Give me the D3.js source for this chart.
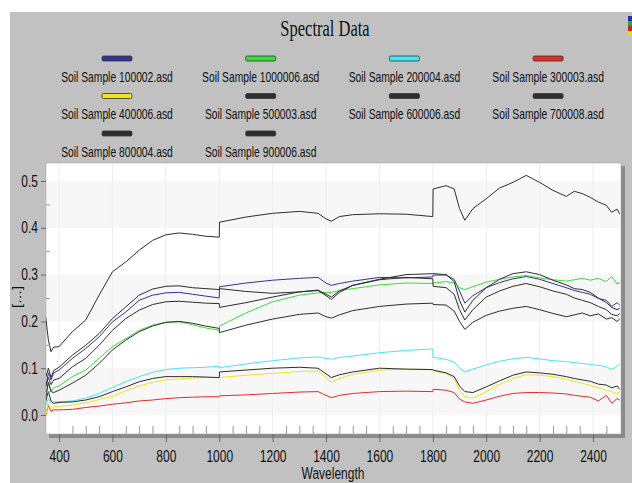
<!DOCTYPE html>
<html>
<head>
<meta charset="utf-8">
<script src="https://cdn.jsdelivr.net/npm/d3@7"></script>
<style>
  body { margin: 0; background: #fff; }
</style>
</head>
<body>
<div id="chart"></div>
<script>
// spectra, one value per wavelength below
// (1000/1001 and 1800/1801 carry the detector splice steps)
const wavelengths = [350, 360, 370, 380, 400, 450, 500, 550, 600, 650,
  700, 750, 800, 850, 900, 950, 1000, 1001, 1100, 1200,
  1300, 1370, 1400, 1420, 1450, 1500, 1600, 1700, 1800, 1801,
  1850, 1880, 1900, 1920, 1950, 2000, 2050, 2100, 2150, 2200,
  2250, 2300, 2330, 2360, 2390, 2420, 2450, 2470, 2490, 2500];

const sampleNames = ["Soil Sample 100002.asd", "Soil Sample 1000006.asd", "Soil Sample 200004.asd",
  "Soil Sample 300003.asd", "Soil Sample 400006.asd", "Soil Sample 500003.asd",
  "Soil Sample 600006.asd", "Soil Sample 700008.asd", "Soil Sample 800004.asd",
  "Soil Sample 900006.asd"];

const s100002 = [0.06, 0.09, 0.075, 0.09, 0.096, 0.121, 0.142, 0.167, 0.199, 0.22,
  0.245, 0.256, 0.261, 0.262, 0.258, 0.254, 0.25, 0.274, 0.282, 0.288,
  0.292, 0.294, 0.282, 0.277, 0.281, 0.286, 0.294, 0.293, 0.295, 0.299,
  0.299, 0.29, 0.265, 0.239, 0.255, 0.272, 0.283, 0.291, 0.296, 0.29,
  0.281, 0.272, 0.266, 0.262, 0.258, 0.249, 0.245, 0.232, 0.24, 0.235];

const s1000006 = [0.03, 0.07, 0.05, 0.058, 0.062, 0.082, 0.096, 0.121, 0.146, 0.163,
  0.181, 0.192, 0.198, 0.199, 0.193, 0.186, 0.181, 0.19, 0.218, 0.242,
  0.256, 0.261, 0.262, 0.262, 0.266, 0.27, 0.278, 0.282, 0.281, 0.282,
  0.285, 0.282, 0.272, 0.268, 0.274, 0.284, 0.29, 0.295, 0.298, 0.293,
  0.289, 0.286, 0.289, 0.292, 0.288, 0.292, 0.285, 0.296, 0.28, 0.283];

const s200004 = [0.02, 0.035, 0.025, 0.028, 0.028, 0.03, 0.036, 0.046, 0.059, 0.071,
  0.082, 0.091, 0.097, 0.1, 0.101, 0.102, 0.104, 0.101, 0.109, 0.116,
  0.122, 0.124, 0.121, 0.119, 0.123, 0.126, 0.133, 0.138, 0.141, 0.123,
  0.119, 0.113, 0.1, 0.092, 0.098, 0.107, 0.115, 0.12, 0.123, 0.12,
  0.116, 0.114, 0.112, 0.11, 0.108, 0.106, 0.103, 0.097, 0.104, 0.108];

const s300003 = [0.0, 0.02, 0.008, 0.011, 0.011, 0.012, 0.016, 0.019, 0.023, 0.026,
  0.03, 0.032, 0.035, 0.037, 0.038, 0.039, 0.039, 0.041, 0.043, 0.046,
  0.049, 0.05, 0.042, 0.037, 0.042, 0.046, 0.05, 0.051, 0.05, 0.055,
  0.053, 0.048, 0.034, 0.028, 0.025, 0.032, 0.04, 0.046, 0.048, 0.048,
  0.047, 0.045, 0.042, 0.04, 0.038, 0.03, 0.042, 0.025, 0.035, 0.032];

const s400006 = [0.0, 0.025, 0.012, 0.018, 0.018, 0.021, 0.026, 0.033, 0.04, 0.052,
  0.062, 0.07, 0.075, 0.077, 0.079, 0.08, 0.08, 0.08, 0.085, 0.089,
  0.093, 0.094, 0.08, 0.07, 0.078, 0.087, 0.096, 0.098, 0.097, 0.095,
  0.088, 0.078, 0.052, 0.039, 0.036, 0.05, 0.065, 0.078, 0.086, 0.085,
  0.082, 0.076, 0.072, 0.068, 0.063, 0.058, 0.053, 0.05, 0.045, 0.05];

const s500003 = [0.21, 0.16, 0.135, 0.145, 0.146, 0.178, 0.203, 0.256, 0.306, 0.327,
  0.352, 0.373, 0.385, 0.389, 0.386, 0.382, 0.38, 0.412, 0.423, 0.431,
  0.435, 0.431, 0.419, 0.414, 0.424, 0.428, 0.43, 0.429, 0.424, 0.483,
  0.49, 0.483, 0.441, 0.416, 0.441, 0.462, 0.485, 0.497, 0.512, 0.497,
  0.48, 0.467, 0.478, 0.473, 0.465, 0.455, 0.448, 0.433, 0.44, 0.43];

const s600006 = [0.08, 0.1, 0.08, 0.095, 0.102, 0.128, 0.149, 0.174, 0.206, 0.231,
  0.256, 0.269, 0.275, 0.276, 0.272, 0.27, 0.268, 0.27, 0.264, 0.26,
  0.263, 0.266, 0.255, 0.247, 0.262, 0.277, 0.29, 0.3, 0.302, 0.302,
  0.3, 0.285, 0.245, 0.22, 0.245, 0.272, 0.29, 0.302, 0.306, 0.3,
  0.288, 0.278, 0.27, 0.268, 0.262, 0.25, 0.24, 0.23, 0.225, 0.228];

const s700008 = [0.06, 0.08, 0.065, 0.075, 0.078, 0.103, 0.121, 0.149, 0.181, 0.206,
  0.224, 0.236, 0.242, 0.243, 0.241, 0.239, 0.238, 0.23, 0.24, 0.252,
  0.263, 0.267, 0.258, 0.252, 0.265, 0.277, 0.289, 0.294, 0.291, 0.275,
  0.272, 0.258, 0.225, 0.203, 0.225, 0.252, 0.265, 0.275, 0.281, 0.274,
  0.265, 0.258, 0.25, 0.245, 0.24, 0.232, 0.225, 0.215, 0.212, 0.217];

const s800004 = [0.04, 0.07, 0.05, 0.048, 0.053, 0.068, 0.085, 0.11, 0.139, 0.16,
  0.178, 0.19, 0.198, 0.2, 0.196, 0.19, 0.185, 0.176, 0.192, 0.205,
  0.215, 0.218, 0.21, 0.207, 0.214, 0.223, 0.232, 0.237, 0.239, 0.236,
  0.235, 0.222, 0.2, 0.183, 0.198, 0.213, 0.222, 0.228, 0.232, 0.225,
  0.217, 0.21, 0.214, 0.218, 0.212, 0.216, 0.205, 0.208, 0.2, 0.205];

const s900006 = [0.03, 0.05, 0.03, 0.025, 0.027, 0.028, 0.032, 0.039, 0.05, 0.06,
  0.071, 0.078, 0.082, 0.082, 0.082, 0.081, 0.08, 0.092, 0.096, 0.1,
  0.102, 0.1, 0.088, 0.08, 0.086, 0.092, 0.1, 0.098, 0.097, 0.096,
  0.09, 0.082, 0.062, 0.05, 0.048, 0.06, 0.073, 0.085, 0.092, 0.09,
  0.087, 0.082, 0.078, 0.075, 0.072, 0.066, 0.064, 0.058, 0.062, 0.055];

const seriesValues = [s100002, s1000006, s200004, s300003, s400006,
  s500003, s600006, s700008, s800004, s900006];

const xTicks = [400, 600, 800, 1000, 1200, 1400, 1600, 1800, 2000, 2200, 2400];
const yTicks = [0.0, 0.1, 0.2, 0.3, 0.4, 0.5];

// styles
const lineColors = ["#333390", "#3ade3a", "#45e6f0", "#e52a2a", "#f0e41e",
  "#2e2e2e", "#2e2e2e", "#2e2e2e", "#2e2e2e", "#2e2e2e"];
const sans = "'Liberation Sans', Arial, sans-serif";
const stretch = "scale(1,1.35)";   // the reference text is drawn tall and narrow

const W = 632, H = 483;
const plot = {left: 46, right: 621, top: 163, bottom: 434};

const svg = d3.select("#chart")
  .append("svg")
  .attr("width", W)
  .attr("height", H)
  .style("display", "block")
  .style("background", "#fff");

// grey panel
svg.append("rect")
  .attr("x", 10).attr("y", 12)
  .attr("width", W - 10).attr("height", H - 12)
  .attr("fill", "#c1c1c1");

// little colour icon top right
["#2233aa", "#22aa33", "#cc2222", "#dddd22"].forEach(function(c, i) {
  svg.append("rect")
    .attr("x", 628).attr("y", 16 + i * 5)
    .attr("width", 4).attr("height", 5)
    .attr("fill", c);
});

// title
svg.append("text")
  .attr("transform", "translate(325,36) " + stretch)
  .attr("text-anchor", "middle")
  .attr("font-family", "'Liberation Serif', 'Times New Roman', serif")
  .attr("font-size", 16.5)
  .attr("fill", "#111")
  .text("Spectral Data");

// legend
const legend = svg.append("g");
sampleNames.forEach(function(name, i) {
  const cx = 117 + (i % 4) * 143.7;
  const row = Math.floor(i / 4);
  legend.append("rect")
    .attr("x", cx - 15).attr("y", 56 + row * 37.5)
    .attr("width", 30).attr("height", 5)
    .attr("rx", 1.5)
    .attr("fill", lineColors[i])
    .attr("stroke", "#333")
    .attr("stroke-width", 0.8);
  legend.append("text")
    .attr("transform", "translate(" + cx + "," + (81.5 + row * 37.5) + ") " + stretch)
    .attr("text-anchor", "middle")
    .attr("font-family", sans)
    .attr("font-size", 10.3)
    .attr("fill", "#111")
    .text(name);
});

// scales
const x = d3.scaleLinear().domain([350, 2500]).range([45.7, 619.7]);
const y = d3.scaleLinear().domain([0, 0.5]).range([415, 181]);

// plot frame with drop shadow
svg.append("rect")
  .attr("x", plot.left + 3).attr("y", plot.top + 3)
  .attr("width", plot.right - plot.left + 1).attr("height", plot.bottom - plot.top + 1)
  .attr("fill", "#8a8a8a");
svg.append("rect")
  .attr("x", plot.left).attr("y", plot.top)
  .attr("width", plot.right - plot.left).attr("height", plot.bottom - plot.top)
  .attr("fill", "#fff")
  .attr("stroke", "#a8a8a8")
  .attr("stroke-width", 0.6);

// alternating bands between major y ticks
svg.append("g").selectAll("rect")
  .data(d3.pairs(yTicks).filter((p, i) => i % 2 === 0))
  .join("rect")
  .attr("x", plot.left + 1)
  .attr("width", plot.right - plot.left - 2)
  .attr("y", d => y(d[1]))
  .attr("height", d => y(d[0]) - y(d[1]))
  .attr("fill", "#f7f7f7");

// faint vertical grid
svg.append("g").selectAll("line")
  .data(xTicks)
  .join("line")
  .attr("x1", d => x(d)).attr("x2", d => x(d))
  .attr("y1", plot.top + 1).attr("y2", plot.bottom - 1)
  .attr("stroke", "#ededed")
  .attr("stroke-width", 1);

// lines
svg.append("clipPath").attr("id", "clip")
  .append("rect")
  .attr("x", plot.left).attr("y", plot.top)
  .attr("width", plot.right - plot.left).attr("height", plot.bottom - plot.top);

const line = d3.line()
  .x((d, i) => x(wavelengths[i]))
  .y(d => y(d));

svg.append("g")
  .attr("clip-path", "url(#clip)")
  .selectAll("path")
  .data(seriesValues)
  .join("path")
  .attr("d", line)
  .attr("fill", "none")
  .attr("stroke", (d, i) => lineColors[i])
  .attr("stroke-width", 1)
  .attr("stroke-linejoin", "round");

// y axis
const yAxis = svg.append("g")
  .attr("transform", "translate(" + plot.left + ",0)")
  .call(d3.axisLeft(y).tickValues(yTicks).tickSize(5).tickPadding(3).tickFormat(d3.format(".1f")));
yAxis.select(".domain").remove();
yAxis.selectAll("line").attr("stroke", "#666");
yAxis.selectAll("text")
  .attr("transform", stretch)
  .attr("font-family", sans)
  .attr("font-size", 12)
  .attr("fill", "#111");

const yMinor = svg.append("g")
  .attr("transform", "translate(" + plot.left + ",0)")
  .call(d3.axisRight(y).tickValues(d3.range(0.05, 0.5, 0.1)).tickSize(4).tickFormat(""));
yMinor.select(".domain").remove();
yMinor.selectAll("line").attr("stroke", "#999");

// x axis
const xMinor = svg.append("g")
  .attr("transform", "translate(0," + plot.bottom + ")")
  .call(d3.axisTop(x).tickValues(d3.range(450, 2500, 50).filter(d => d % 200 !== 0)).tickSize(8).tickFormat(""));
xMinor.select(".domain").remove();
xMinor.selectAll("line").attr("stroke", "#999");

const xAxis = svg.append("g")
  .attr("transform", "translate(0," + plot.bottom + ")")
  .call(d3.axisBottom(x).tickValues(xTicks).tickSize(8).tickFormat(d3.format("d")));
xAxis.select(".domain").remove();
xAxis.selectAll("line").attr("stroke", "#666");
xAxis.selectAll("text")
  .attr("y", 0)
  .attr("dy", null)
  .attr("transform", "translate(0,28) " + stretch)
  .attr("font-family", sans)
  .attr("font-size", 12)
  .attr("fill", "#111");

// axis titles
svg.append("text")
  .attr("transform", "translate(333,479) " + stretch)
  .attr("text-anchor", "middle")
  .attr("font-family", sans)
  .attr("font-size", 12)
  .attr("fill", "#111")
  .text("Wavelength");

svg.append("text")
  .attr("transform", "translate(17,297) " + stretch + " rotate(-90)")
  .attr("text-anchor", "middle")
  .attr("dy", "0.35em")
  .attr("font-family", sans)
  .attr("font-size", 12)
  .attr("fill", "#111")
  .text("[...]");
</script>
</body>
</html>
